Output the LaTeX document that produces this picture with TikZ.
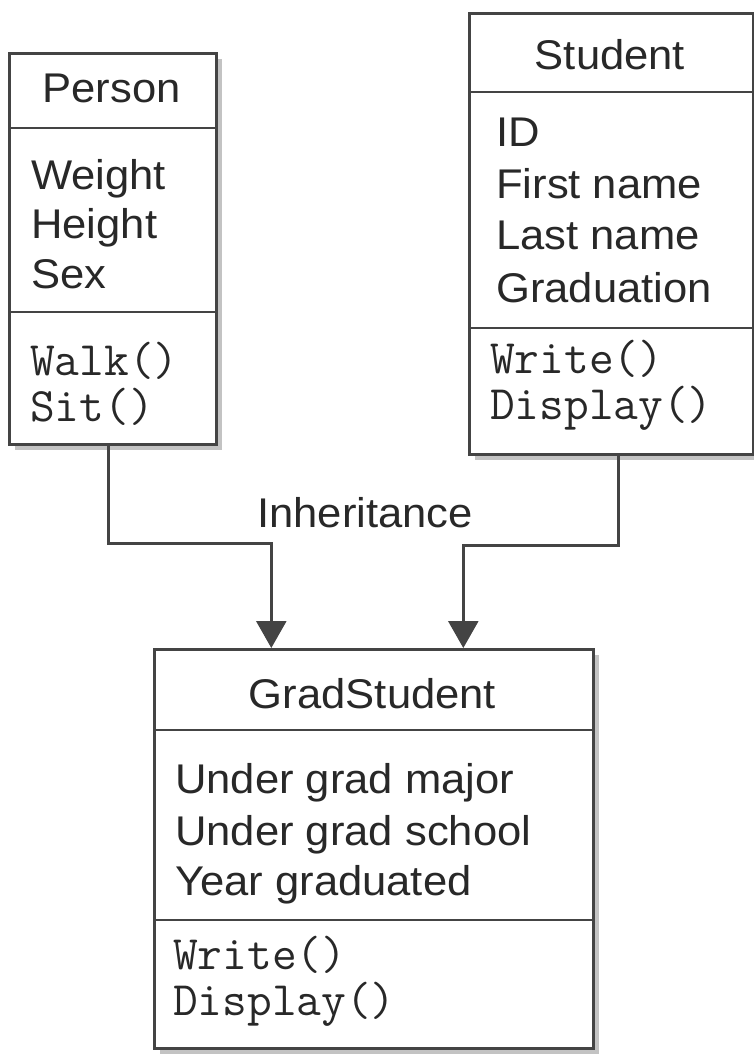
\documentclass[tikz,border=0pt]{standalone}
\usepackage{fontspec}
\setmainfont{Liberation Sans}[FakeStretch=1.05]
\usetikzlibrary{arrows.meta,shadows}
\definecolor{inkline}{RGB}{68,68,68}
\definecolor{inktext}{RGB}{40,40,40}
\definecolor{shade}{RGB}{195,195,195}
\begin{document}
\begin{tikzpicture}[x=1pt,y=-1pt,
  classbox/.style={draw=inkline, line width=2.6pt, fill=white, anchor=north west,
    inner sep=0pt, drop shadow={shadow xshift=6pt, shadow yshift=-6pt, fill=shade, opacity=1}},
  title/.style={anchor=base, text=inktext, inner sep=0pt, font=\fontsize{41.5}{49}\selectfont},
  attr/.style={anchor=base west, text=inktext, inner sep=0pt, font=\fontsize{41.5}{49}\selectfont},
  op/.style={anchor=base west, text=inktext, inner sep=0pt, text height=30pt, text depth=8pt,
    font=\ttfamily\fontsize{48}{50}\selectfont},
  divider/.style={draw=inkline, line width=2.6pt},
  inherit/.style={draw=inkline, line width=2.6pt, -{Triangle[width=30pt,length=27pt]}},
]
\useasboundingbox[fill=white] (0,0) rectangle (754,1059);

% Person
\node[classbox, minimum width=207pt, minimum height=391pt] (person) at (8,52) {};
\draw[divider] (8,128) -- (215,128);
\draw[divider] (8,312) -- (215,312);
\node[title] (personname) at (111.5,103) {Person};
\node[attr] (pweight) at (31,190) {Weight};
\node[attr] (pheight) at (31,239) {Height};
\node[attr] (psex) at (31,288) {Sex};
\node[op] (pwalk) at (30,375) {Walk()};
\node[op] (psit) at (30,421) {Sit()};

% Student
\node[classbox, minimum width=284pt, minimum height=441pt] (student) at (468,12) {};
\draw[divider] (468,92) -- (752,92);
\draw[divider] (468,328) -- (752,328);
\node[title] (studentname) at (610,70) {Student};
\node[attr] (sid) at (496,147) {ID};
\node[attr] (sfirst) at (496,199) {First name};
\node[attr] (slast) at (496,250) {Last name};
\node[attr] (sgrad) at (496,302) {Graduation};
\node[op] (swrite) at (490,373) {Write()};
\node[op] (sdisplay) at (490,419) {Display()};

% GradStudent
\node[classbox, minimum width=439pt, minimum height=399pt] (grad) at (153,648) {};
\draw[divider] (153,730) -- (592,730);
\draw[divider] (153,920) -- (592,920);
\node[title] (gradname) at (372.5,708) {GradStudent};
\node[attr] (gmajor) at (175,793) {Under grad major};
\node[attr] (gschool) at (175,845) {Under grad school};
\node[attr] (gyear) at (175,895) {Year graduated};
\node[op] (gwrite) at (173,969) {Write()};
\node[op] (gdisplay) at (173,1015) {Display()};

% Inheritance connectors
\draw[inherit] ([xshift=-4.5pt]person.south) -- ++(0,98) -| ([xshift=-102.5pt]grad.north);
\draw[inherit] ([xshift=7pt]student.south) -- ++(0,90) -| ([xshift=89.5pt]grad.north);
\node[title] (inheritlabel) at (365,527) {Inheritance};
\end{tikzpicture}
\end{document}
